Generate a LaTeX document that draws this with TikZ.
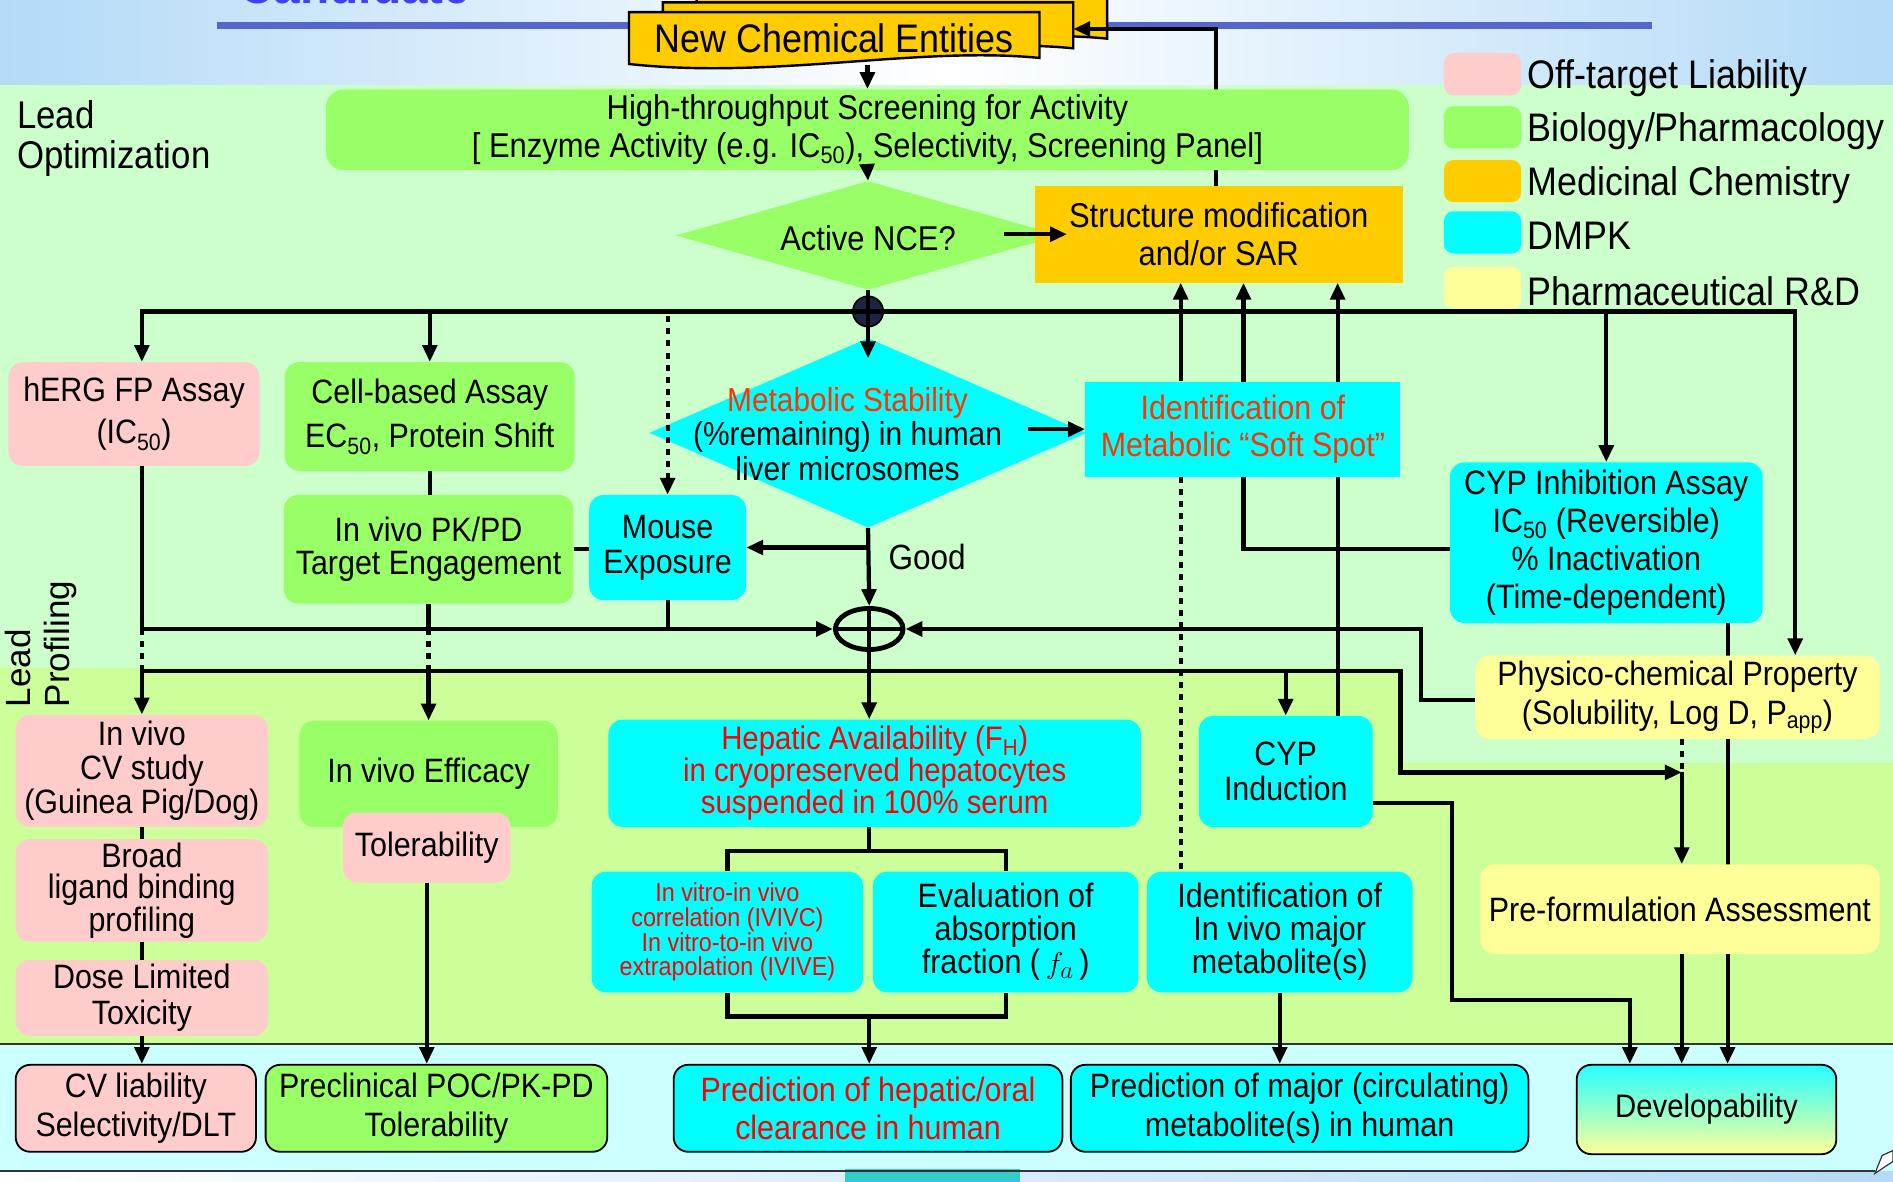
\documentclass[tikz,border=0pt]{standalone}
\usepackage{fontspec}
\setmainfont{Liberation Sans}[FakeStretch=0.9]
\newfontfamily\lpfont{Liberation Sans}
\usepackage{xcolor}
\usepackage{tikz}
\usetikzlibrary{arrows.meta,shapes.geometric,calc,positioning}

\definecolor{pinkbox}{HTML}{FFCCCC}
\definecolor{greenbox}{HTML}{99FF66}
\definecolor{goldbox}{HTML}{FFCC00}
\definecolor{cyanbox}{HTML}{00FFFF}
\definecolor{yellowbox}{HTML}{FFFF99}
\definecolor{optzone}{HTML}{CCFFCC}
\definecolor{profzone}{HTML}{CCFF99}
\definecolor{endzone}{HTML}{CCFFFF}
\definecolor{skyband}{HTML}{B3DAF7}
\definecolor{titleblue}{HTML}{5566CC}
\definecolor{softred}{HTML}{FF3300}
\definecolor{hepred}{HTML}{FF0000}
\definecolor{knotnavy}{HTML}{202444}
\definecolor{tealblock}{HTML}{33CCCC}

\newcommand{\fsz}[2]{\fontsize{#1}{#2}\selectfont}

\pgfdeclarelayer{zones}
\pgfdeclarelayer{wires}
\pgfsetlayers{zones,wires,main}

\begin{document}
\begin{tikzpicture}[x=1pt,y=-1pt,
   wire/.style={line width=3.5pt},
   arr/.style={wire,-{Triangle[length=14pt,width=12pt]}},
   dotwire/.style={line width=3.5pt,dash pattern=on 5pt off 5pt},
   dotarr/.style={dotwire,-{Triangle[length=14pt,width=12pt]}},
   box/.style={rounded corners=12pt,inner sep=0pt,align=center,font=\fsz{28}{31}},
   liability/.style={box,fill=pinkbox},
   biology/.style={box,fill=greenbox},
   medchem/.style={box,fill=goldbox,sharp corners},
   dmpk/.style={box,fill=cyanbox},
   pharmrd/.style={box,fill=yellowbox},
   outcome/.style={draw=black,line width=1.5pt,minimum height=72pt},
   keybox/.style={rounded corners=8pt,minimum width=64pt,minimum height=35pt}]

  \useasboundingbox (0,0) rectangle (1568,979);

  % --- boxes ---
  \node[font=\fsz{33}{33},inner sep=0pt,minimum width=340pt,minimum height=43pt] (nce) at (691,32) {New Chemical Entities};
  \coordinate (nceback) at (889,24);

  \node[biology,minimum width=897pt,minimum height=67pt,rounded corners=15pt,font=\fsz{28.5}{31}] (hts) at (718.5,107.5)
    {High-throughput Screening for Activity\\\relax[ Enzyme Activity (e.g. IC\textsubscript{50}), Selectivity, Screening Panel]};

  \node[diamond,fill=greenbox,minimum width=318pt,minimum height=90pt,inner sep=0pt] (activeq) at (719,195) {};
  \node[font=\fsz{28.5}{31}] (activetxt) at (719,197) {Active NCE?};

  \node[medchem,minimum width=305pt,minimum height=80pt,font=\fsz{28.5}{32}] (structmod) at (1009.5,194) {Structure modification\\and/or SAR};

  \node[circle,fill=knotnavy,draw=black,line width=1.5pt,minimum size=25pt,inner sep=0pt] (j1) at (719,258) {};

  \node[liability,minimum width=208pt,minimum height=86pt,font=\fsz{28}{35}] (herg) at (111,343) {hERG FP Assay\\(IC\textsubscript{50})};
  \node[biology,minimum width=240pt,minimum height=90pt,font=\fsz{28}{37}] (cellbased) at (356,345) {Cell-based Assay\\EC\textsubscript{50}, Protein Shift};
  \node[biology,minimum width=240pt,minimum height=90pt,font=\fsz{28}{28}] (pkpd) at (355,455) {In vivo PK/PD\\Target Engagement};
  \node[dmpk,minimum width=130pt,minimum height=87pt,font=\fsz{28}{29}] (mouse) at (553,453.5) {Mouse\\Exposure};

  \node[diamond,fill=cyanbox,minimum width=362pt,minimum height=157pt,inner sep=0pt] (metstab) at (719,358.5) {};
  \node[align=center,font=\fsz{27.5}{28.5}] (metstabtxt) at (702,359.5)
    {{\color{softred}Metabolic Stability}\\(\%remaining) in human\\liver microsomes};

  \node[dmpk,sharp corners,minimum width=261pt,minimum height=79pt,font=\fsz{28}{30},text=softred] (softspot) at (1029.5,355.5)
    {Identification of\\Metabolic ``Soft Spot''};
  \node[dmpk,minimum width=259pt,minimum height=133pt,font=\fsz{28}{31.7}] (cypinh) at (1330.5,449.5)
    {CYP Inhibition Assay\\IC\textsubscript{50} (Reversible)\\\% Inactivation\\(Time-dependent)};
  \node[pharmrd,minimum width=335pt,minimum height=69pt,font=\fsz{28}{32}] (physico) at (1389.5,577.5)
    {Physico-chemical Property\\(Solubility, Log D, P\textsubscript{app})};

  \node[ellipse,draw=black,line width=4pt,minimum width=56pt,minimum height=34pt,inner sep=0pt] (j2) at (720,521) {};
  \node[font=\fsz{29}{29}] (good) at (768,461) {Good};

  \node[liability,minimum width=209pt,minimum height=93pt,font=\fsz{28}{28.5}] (cvstudy) at (117.5,638.5) {In vivo\\CV study\\(Guinea Pig/Dog)};
  \node[liability,minimum width=209pt,minimum height=85pt,font=\fsz{28}{26}] (broad) at (117.5,737.5) {Broad\\ligand binding\\profiling};
  \node[liability,minimum width=209pt,minimum height=63pt,font=\fsz{28}{30}] (dose) at (117.5,826.5) {Dose Limited\\Toxicity};

  \node[biology,minimum width=214pt,minimum height=88pt] (efficacy) at (355,641) {In vivo Efficacy};
  \node[liability,minimum width=139pt,minimum height=58pt] (toler) at (353.5,702) {Tolerability};

  \node[dmpk,minimum width=441pt,minimum height=89pt,font=\fsz{27}{26.5},text=hepred] (hepatic) at (724.5,640.5)
    {Hepatic Availability (F\textsubscript{H})\\in cryopreserved hepatocytes\\suspended in 100\% serum};
  \node[dmpk,minimum width=225pt,minimum height=100pt,font=\fsz{21.5}{20.5},text=hepred] (ivivc) at (602.5,772)
    {In vitro-in vivo\\correlation (IVIVC)\\In vitro-to-in vivo\\extrapolation (IVIVE)};
  \node[dmpk,minimum width=220pt,minimum height=100pt,font=\fsz{28}{27.5}] (absorb) at (833,772)
    {Evaluation of\\absorption\\fraction (\,$f_a$\,)};
  \node[dmpk,minimum width=220pt,minimum height=100pt,font=\fsz{28}{27.5}] (invivoid) at (1060,772)
    {Identification of\\In vivo major\\metabolite(s)};
  \node[dmpk,minimum width=144pt,minimum height=92pt,font=\fsz{28}{29}] (cypind) at (1065,639) {CYP\\Induction};
  \node[pharmrd,minimum width=331pt,minimum height=74pt] (preform) at (1391.5,753) {Pre-formulation Assessment};

  \node[liability,outcome,minimum width=199pt,font=\fsz{28}{32}] (cvliab) at (112.5,918) {CV liability\\Selectivity/DLT};
  \node[biology,outcome,minimum width=283pt,font=\fsz{28}{32}] (preclin) at (361.5,918) {Preclinical POC/PK-PD\\Tolerability};
  \node[dmpk,outcome,minimum width=322pt,font=\fsz{28}{32},text=hepred] (predhep) at (719,918) {Prediction of hepatic/oral\\clearance in human};
  \node[dmpk,outcome,minimum width=379pt,font=\fsz{28}{32}] (predmajor) at (1076.5,918) {Prediction of major (circulating)\\metabolite(s) in human};
  \node[box,outcome,top color=cyanbox!85,bottom color=yellowbox,minimum width=215pt,minimum height=74pt,font=\fsz{27}{30}] (devel) at (1413.5,919) {Developability};

  % legend
  \foreach \col/\y/\name in {pinkbox/61.5/Off-target Liability,greenbox/105.5/{Biology/Pharmacology},goldbox/150/Medicinal Chemistry,cyanbox/192.5/DMPK,yellowbox/238.5/{Pharmaceutical R\&D}}{
    \node[keybox,fill=\col] (key-\col) at (1228,\y) {};
    \node[anchor=west,font=\fsz{33}{33},inner sep=0pt] (keytxt-\col) at (1265,\y+3) {\name};
  }

  \node[anchor=north west,align=left,font=\fsz{32}{33},inner sep=0pt] (leadopt) at (14,83) {Lead\\Optimization};
  \node[rotate=90,anchor=north west,align=left,font=\lpfont\fsz{29}{32},inner sep=0pt] (leadprof) at (4,586) {Lead\\Profiling};

  % --- zones ---
  \begin{pgfonlayer}{zones}
    \shade[left color=skyband,right color=skyband,middle color=white] (0,-10) rectangle (1568,70);
    \fill[optzone] (0,70) rectangle (1568,632);
    \fill[profzone] (0,553) -- (1160,553) -- (1160,632) -- (1568,632) -- (1568,865) -- (0,865) -- cycle;
    \fill[endzone] (0,865) rectangle (1568,970);
    \shade[left color=white,right color=skyband] (0,970) rectangle (1568,990);
    \fill[tealblock] (700,968) rectangle (845,990);
    \draw[line width=1.5pt,black!80] (0,865) -- (1568,865);
    \draw[line width=1.5pt,black!80] (0,970) -- (1553,970);
    \filldraw[fill=white,draw=black!80,line width=1pt] (1553,972) -- (1559,957) -- (1568,953) -- (1568,962) -- cycle;
    \draw[line width=6pt,titleblue] (180,21) -- (1368,21);
    \node[anchor=base west,text=blue!75,font=\bfseries\fsz{44}{44},inner sep=0pt] (candidate) at (198,3) {Candidate};
  \end{pgfonlayer}

  % --- wires hidden behind boxes ---
  \begin{pgfonlayer}{wires}
    \foreach \dx/\dy in {56/-16,28/-8,0/0}
      \filldraw[fill=goldbox,draw=black,line width=2pt]
        (521+\dx,10+\dy) -- (861+\dx,10+\dy) -- (861+\dx,48+\dy)
        .. controls (760+\dx,38+\dy) and (640+\dx,66+\dy) .. (521+\dx,53+\dy) -- cycle;
    \draw[arr] ([xshift=-2.5pt]structmod.north) |- (nceback);
    \draw[arr] ([yshift=-5pt]cypinh.west) -| ([xshift=20.5pt]structmod.south);
    \draw[arr] ([xshift=43pt]cypind.north) -- ([xshift=98.5pt]structmod.south);
    \draw[arr] ([xshift=100.5pt]cypinh.south) -- ([xshift=17.5pt]devel.north);
  \end{pgfonlayer}

  % --- connectors ---
  \draw[arr] (nce.south -| hts.north) -- (hts.north);
  \draw[arr] (hts.south) -- (activeq.north);
  \draw[arr] (structmod.west) ++(-25,0) -- ++(52,0);
  \draw[arr] (activeq.south) -- ([yshift=-17pt]metstab.north);

  \draw[arr] (j1.center) -| (herg.north -| cvstudy.north);
  \draw[arr] (j1.center) -| (cellbased.north);
  \draw[arr] (j1.center) -| (cypinh.north);
  \draw[arr] (j1.center) -| ([xshift=97.5pt]physico.north);
  \draw[dotarr] ([yshift=-4pt]mouse.north |- j1.center) -- (mouse.north);

  \draw[arr] (softspot.west) ++(-47,0) -- (softspot.west);
  \draw[arr] ([xshift=-51.5pt]softspot.north) -- ([xshift=-31.5pt]structmod.south);
  \draw[dotwire] ([xshift=-51.5pt]softspot.south) -- ([xshift=-82pt]invivoid.north);

  \draw[wire] (cellbased.south) -- (cellbased.south |- pkpd.north);
  \draw[wire] (pkpd.east) -- (pkpd.east -| mouse.west);
  \draw[arr] (metstab.south) -- (j2.north);
  \draw[arr] (metstab.south |- mouse.east) -- (mouse.east);

  \draw[arr] (herg.south -| cvstudy.north) |- (j2.west);
  \draw[wire] (mouse.south) -- (mouse.south |- j2.west);
  \draw[wire] (pkpd.south) -- (pkpd.south |- j2.west);
  \draw[wire] (j2.west) -- (j2.east);
  \coordinate (pcbend) at (1177,521);
  \draw[arr] ([yshift=-2.5pt]physico.west) -| (pcbend) -- (j2.east);

  \coordinate (b2) at (720,556);
  \coordinate (b2turn) at (1160,556);
  \coordinate (pfin) at ($(preform.north)+(1.5,-76)$);
  \draw[arr] (j2.north) -- (j2.north |- hepatic.north);
  \draw[dotwire] (cvstudy.north |- j2.west) -- (cvstudy.north |- b2);
  \draw[dotwire] (pkpd.south |- j2.west) -- (pkpd.south |- b2);
  \draw[arr] (b2) -| (cvstudy.north);
  \draw[arr] (b2) -| (efficacy.north);
  \draw[arr] (b2) -| (cypind.north);
  \draw[arr] (b2) -- (b2turn) |- (pfin);
  \draw[dotwire] ([xshift=3.5pt]physico.south) -- (pfin);
  \draw[arr] (pfin) -- (pfin |- preform.north);
  \draw[arr] (preform.south -| pfin) -- (pfin |- devel.north);
  \draw[arr] ([yshift=-26pt]cypind.east) -| (1203,828) -| ([xshift=-63.5pt]devel.north);

  \coordinate (hsplit) at (720,705);
  \coordinate (hjoin) at (720,842);
  \draw[wire] (hepatic.south -| hsplit) -- (hsplit);
  \draw[wire] (ivivc.north) |- (hsplit) -| (absorb.north);
  \draw[wire] (ivivc.south) |- (hjoin) -| (absorb.south);
  \draw[arr] (hjoin) -- (hjoin |- predhep.north);
  \draw[arr] (invivoid.south) -- (invivoid.south |- predmajor.north);

  \draw[wire] (cvstudy.south) -- (broad.north);
  \draw[wire] (broad.south) -- (dose.north);
  \draw[arr] (dose.south) -- (dose.south |- cvliab.north);
  \draw[arr] (toler.south) -- (toler.south |- preclin.north);
\end{tikzpicture}
\end{document}
